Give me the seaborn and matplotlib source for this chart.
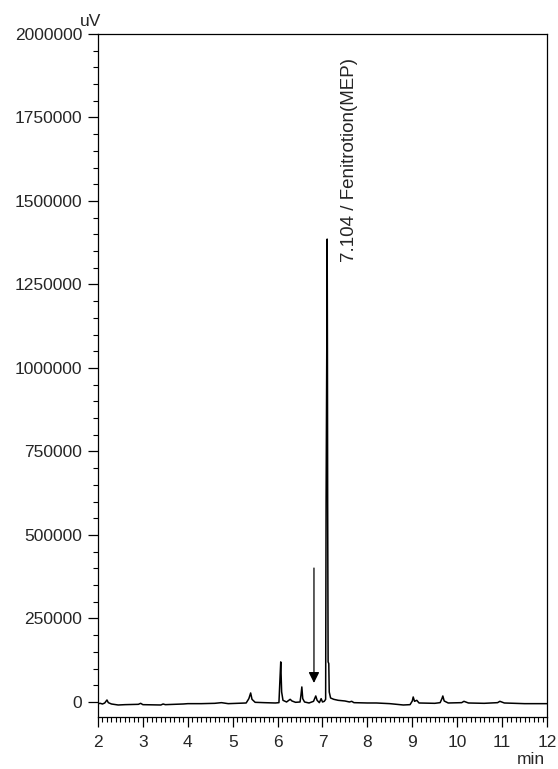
import matplotlib
matplotlib.use("Agg")
import matplotlib.pyplot as plt
from matplotlib.ticker import MultipleLocator, FuncFormatter
import seaborn as sns
import pandas as pd

# retention time (min) and detector signal (uV)
time_min = [
    2.00, 2.05, 2.10, 2.15, 2.20, 2.23, 2.30, 2.45, 2.60, 2.90, 2.95, 3.00,
    3.40, 3.45, 3.50, 3.90, 4.00, 4.30, 4.60, 4.75, 4.90, 5.10, 5.30, 5.36,
    5.40, 5.43, 5.50, 5.70, 5.95, 6.03, 6.05, 6.07, 6.09, 6.12, 6.20, 6.28,
    6.32, 6.40, 6.50, 6.52, 6.54, 6.56, 6.60, 6.70, 6.80, 6.85, 6.88, 6.93,
    6.97, 7.00, 7.04, 7.07, 7.080, 7.095, 7.104, 7.110, 7.115, 7.125, 7.140,
    7.150, 7.18, 7.25, 7.35, 7.50, 7.60, 7.65, 7.70, 8.00, 8.20, 8.50, 8.80,
    8.95, 9.00, 9.02, 9.05, 9.10, 9.15, 9.50, 9.62, 9.66, 9.68, 9.71, 9.80,
    10.10, 10.15, 10.25, 10.60, 10.90, 10.95, 11.05, 11.50, 12.00,
]
signal_uv = [
    -5000, -4000, -6000, -3000, 6000, -2000, -6000, -9000, -8000, -7000, -4000, -8000,
    -9000, -6000, -8000, -6000, -5000, -5000, -4000, -2000, -5000, -4000, -3000, 10000,
    27000, 8000, -1000, -2000, -3000, -2000, 60000, 120000, 30000, 5000, 0, 8000,
    3000, -1000, 0, 20000, 45000, 10000, 0, -3000, 2000, 18000, 5000, -2000,
    10000, 0, 2000, 8000, 596000, 1048000, 1386000, 1048000, 596000, 120000, 115000,
    30000, 12000, 8000, 5000, 3000, 0, 2000, -2000, -3000, -3000, -5000, -9000,
    -8000, 3000, 15000, 2000, 5000, -3000, -4000, -2000, 10000, 18000, 3000, -3000,
    -2000, 2000, -3000, -4000, -2000, 2000, -3000, -5000, -5000,
]

peak_label = "7.104 / Fenitrotion(MEP)"
label_pos = (7.61, 1318000)
arrow_x = 6.81
arrow_top = 401000
arrow_tip = 57000

df = pd.DataFrame({"time": time_min, "signal": signal_uv})

sns.set_style("ticks")
plt.rcParams["font.family"] = ["Liberation Sans", "DejaVu Sans"]

fig = plt.figure(figsize=(5.58, 7.69), dpi=100)
ax = fig.add_axes([0.1756, 0.0676, 0.8047, 0.8882])

sns.lineplot(data=df, x="time", y="signal", color="black", linewidth=1.1, ax=ax)

ax.set_xlim(2, 12)
ax.set_ylim(-45000, 2000000)
ax.xaxis.set_major_locator(MultipleLocator(1))
ax.xaxis.set_minor_locator(MultipleLocator(0.1))
ax.yaxis.set_major_locator(MultipleLocator(250000))
ax.yaxis.set_minor_locator(MultipleLocator(50000))
ax.yaxis.set_major_formatter(FuncFormatter(lambda v, p: f"{v:.0f}"))
ax.xaxis.set_major_formatter(FuncFormatter(lambda v, p: f"{v:.0f}"))
ax.tick_params(axis="both", which="major", direction="out", length=7, width=0.9,
               labelsize=12.5, color="black")
ax.tick_params(axis="both", which="minor", direction="out", length=3.5, width=0.8,
               color="black")
ax.tick_params(axis="y", pad=4.5)
ax.tick_params(axis="x", pad=6)
ax.set_xlabel("")
ax.set_ylabel("")
for side in ["left", "right", "top", "bottom"]:
    ax.spines[side].set_visible(True)
    ax.spines[side].set_color("black")
    ax.spines[side].set_linewidth(0.9)

ax.text(label_pos[0], label_pos[1], peak_label, rotation=90, ha="center",
        va="bottom", fontsize=13.5)

ax.annotate("", xy=(arrow_x, arrow_tip), xytext=(arrow_x, arrow_top),
            arrowprops=dict(arrowstyle="-|>", color="black", lw=0.9,
                            mutation_scale=16, shrinkA=0, shrinkB=0))

ax.annotate("uV", xy=(0, 1), xycoords="axes fraction", xytext=(3, 5),
            textcoords="offset pixels", ha="right", va="bottom", fontsize=12.5)
ax.annotate("min", xy=(1, 0), xycoords="axes fraction", xytext=(-2, -47),
            textcoords="offset pixels", ha="right", va="baseline", fontsize=12.5)

fig.savefig("out.png", dpi=100, facecolor="white")
